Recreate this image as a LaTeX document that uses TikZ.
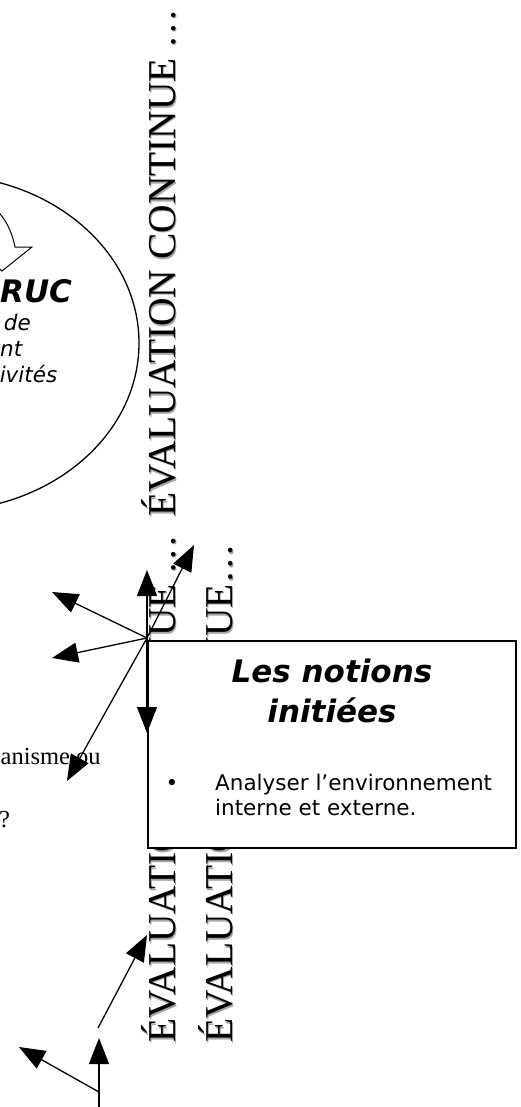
\documentclass[tikz,border=0pt]{standalone}
\usepackage{fontspec}
\newfontfamily\serifF{Liberation Serif}
\newfontfamily\sansF{DejaVu Sans}
\usetikzlibrary{arrows.meta}
\begin{document}
\begin{tikzpicture}[x=1pt,y=-1pt,
  arr/.style={-{Triangle[length=26pt,width=20pt]}, line width=1.3pt},
  evaltxt/.style={rotate=90, anchor=base west, inner sep=0pt, font=\serifF\fontsize{39.5}{40}\selectfont},
  shadowtxt/.style={evaltxt, text=black!35},
  bodytxt/.style={inner sep=0pt, font=\serifF\fontsize{24.5}{30}\selectfont},
  sanstxt/.style={inner sep=0pt, font=\sansF\fontsize{21.5}{26}\selectfont},
  sansit/.style={inner sep=0pt, font=\sansF\itshape\fontsize{21.5}{26}\selectfont},
  titletxt/.style={inner sep=0pt, font=\sansF\bfseries\itshape\fontsize{31}{40}\selectfont},
  framebox/.style={draw, line width=1.5pt, fill=white, inner sep=0pt, anchor=north west,
                   minimum width=368pt, minimum height=207pt}]
\useasboundingbox (0,0) rectangle (521,1107);
\clip (0,0) rectangle (521,1107);

% ellipse with curved arrow and text
\draw[line width=1.3pt] (-60,343) ellipse [x radius=199pt, y radius=168pt];
\draw[line width=1pt] (-10,205) .. controls (5,215) and (12,232) .. (15,247) -- (32,247) -- (2,271) -- (-15,256);
\node[titletxt, anchor=base west] (ruc) at (0,302) {RUC};
\node[sansit, anchor=base east] (l1) at (31,330) {de};
\node[sansit, anchor=base west] (l2) at (0,356) {nt};
\node[sansit, anchor=base east] (l3) at (57.5,382) {ivités};

% left fragments
\node[bodytxt, anchor=base west] (frag1) at (0.5,764) {anisme ou};
\node[bodytxt, anchor=base west] (frag2) at (-1,827) {?};

% vertical texts with shadow
\node[shadowtxt] at (176.5,518.5) {ÉVALUATION CONTINUE …};
\node[evaltxt] (ev1) at (175,517) {ÉVALUATION CONTINUE …};
\node[shadowtxt] at (176.5,1044.5) {ÉVALUATION CONTINUE …};
\node[evaltxt] (ev2) at (175,1043) {ÉVALUATION CONTINUE …};
\node[shadowtxt] at (233.5,1044.5) {ÉVALUATION CONTINUE…};
\node[evaltxt] (ev3) at (232,1043) {ÉVALUATION CONTINUE…};

% box
\node[framebox] (box) at (147,640) {};
\node[titletxt, anchor=base] (t1) at (332,682) {Les notions};
\node[titletxt, anchor=base] (t2) at (332,722) {initiées};
\node[sanstxt, anchor=base] (bul) at (172,790) {•};
\node[sanstxt, anchor=base west] (b1) at (215,790) {Analyser l’environnement};
\node[sanstxt, anchor=base west] (b2) at (215,815) {interne et externe.};

% arrows from hub
\coordinate (hub) at (147,638);
\coordinate (aU) at (147,570);
\coordinate (aUR) at (194,545);
\coordinate (aUL) at (52,592);
\coordinate (aL) at (52,658);
\coordinate (aD) at (147,733);
\coordinate (aDL) at (67,781);
\draw[arr] (hub) -- (aU);
\draw[arr] (hub) -- (aUR);
\draw[arr] (hub) -- (aUL);
\draw[arr] (hub) -- (aL);
\draw[arr] (hub) -- (aD);
\draw[arr] (hub) -- (aDL);

% lower arrows
\coordinate (s1) at (98,1028);
\coordinate (e1) at (147,935);
\coordinate (s2) at (99,1107);
\coordinate (e2) at (99,1038);
\coordinate (s3) at (99,1092);
\coordinate (e3) at (19,1047);
\draw[arr] (s1) -- (e1);
\draw[arr] (s2) -- (e2);
\draw[arr] (s3) -- (e3);
\end{tikzpicture}
\end{document}
